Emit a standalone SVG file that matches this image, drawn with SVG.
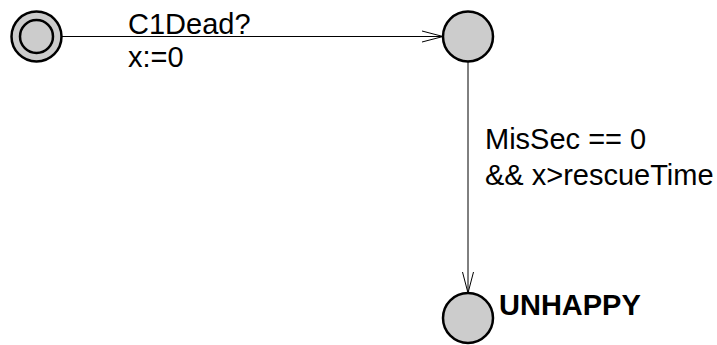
<svg xmlns="http://www.w3.org/2000/svg" width="717" height="345" viewBox="0 0 717 345">
<defs>
<marker id="arr" markerWidth="24" markerHeight="14" refX="21" refY="7" orient="auto" markerUnits="userSpaceOnUse">
<path d="M0,1.5 L21,7 L0,12.5" fill="none" stroke="#000" stroke-width="1"/>
</marker>
</defs>
<style>
.loc{fill:#cccccc;stroke:#000;stroke-width:2.5}
.edge{fill:none;stroke:#000;stroke-width:1}
.lbl{font-family:"Liberation Sans",Arial,sans-serif;font-size:29px;fill:#000}
.name{font-family:"Liberation Sans",Arial,sans-serif;font-size:29px;font-weight:bold;fill:#000}
</style>
<rect width="717" height="345" fill="#fff"/>
<g id="connectors">
<g id="e1">
<line class="edge" x1="62" y1="36.5" x2="443" y2="36.5" marker-end="url(#arr)"/>
<text class="lbl" x="128" y="34">C1Dead?</text>
<text class="lbl" x="128" y="67">x:=0</text>
</g>
<g id="e2">
<line class="edge" x1="468" y1="62" x2="468" y2="293" marker-end="url(#arr)"/>
<text class="lbl" x="485" y="149">MisSec == 0</text>
<text class="lbl" x="485" y="185">&amp;&amp; x&gt;rescueTime</text>
</g>
</g>
<g id="init">
<circle class="loc" cx="36.5" cy="36.5" r="25"/>
<circle class="loc" cx="36.5" cy="36.5" r="16.5"/>
</g>
<g id="mid">
<circle class="loc" cx="468" cy="36.5" r="25"/>
</g>
<g id="unhappy">
<circle class="loc" cx="468" cy="318" r="25"/>
<text class="name" x="499" y="315">UNHAPPY</text>
</g>
</svg>
